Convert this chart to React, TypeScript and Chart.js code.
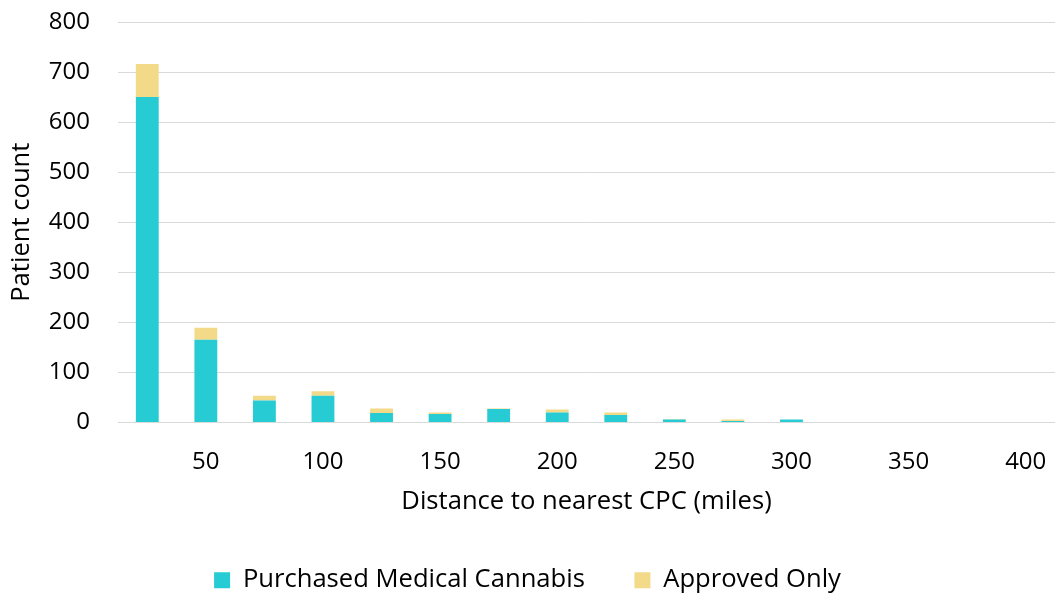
import React, { useEffect, useRef } from "react";
import { Chart, registerables } from "chart.js";

Chart.register(...registerables);

const categories = ["25", "50", "75", "100", "125", "150", "175", "200", "225", "250", "275", "300", "325", "350", "375", "400"];
const tickLabels = ["", "50", "", "100", "", "150", "", "200", "", "250", "", "300", "", "350", "", "400"];
const purchased = [650, 165, 44, 53, 19, 17, 27, 20, 15, 6, 3, 6, 1, 1, 1, 0];
const approvedOnly = [66, 24, 9, 9, 9, 3, 1, 6, 5, 1, 3, 0, 0, 0, 0, 1];
const seriesNames = ["Purchased Medical Cannabis", "Approved Only"];
const yTicks = [0, 100, 200, 300, 400, 500, 600, 700, 800];

const FONT = "'Open Sans', sans-serif";
const TICK_FS = 24;
const TEXT_FS = 25.6;

export default function App() {
  const ref = useRef<HTMLCanvasElement | null>(null);

  useEffect(() => {
    document.body.style.margin = "0";
    const canvas = ref.current;
    if (!canvas) return;
    const chart = new Chart(canvas, {
      type: "bar",
      data: {
        labels: categories,
        datasets: [
          {
            label: seriesNames[0],
            data: purchased,
            backgroundColor: "#26CBD3",
            barPercentage: 0.39,
            categoryPercentage: 1,
          },
          {
            label: seriesNames[1],
            data: approvedOnly,
            backgroundColor: "#F3DA88",
            barPercentage: 0.39,
            categoryPercentage: 1,
          },
        ],
      },
      options: {
        animation: false,
        responsive: false,
        devicePixelRatio: 1,
        layout: { padding: { top: 22, right: 0, bottom: -10, left: 0 } },
        plugins: {
          tooltip: { enabled: false },
          legend: {
            position: "bottom",
            labels: {
              font: { family: FONT, size: TEXT_FS },
              color: "#000",
              boxWidth: 16,
              boxHeight: 16,
              padding: 3,
              generateLabels: (c) => {
                const items = Chart.defaults.plugins.legend.labels.generateLabels(c);
                items.forEach((it, i) => {
                  it.lineWidth = 0;
                  if (i === 0) it.text = it.text + "       ";
                });
                return items;
              },
            },
          },
        },
        scales: {
          x: {
            stacked: true,
            grid: { display: false, drawTicks: true, tickLength: 25 },
            border: { display: false },
            ticks: {
              font: { family: FONT, size: TICK_FS },
              color: "#000",
              padding: 0,
              autoSkip: false,
              maxRotation: 0,
              callback: (_v, i) => tickLabels[i],
            },
            title: {
              display: true,
              text: "Distance to nearest CPC (miles)",
              font: { family: FONT, size: TEXT_FS },
              color: "#000",
              padding: { top: 0, bottom: 47 },
            },
            afterFit: (s) => {
              s.height = 142;
            },
          },
          y: {
            stacked: true,
            min: 0,
            max: 800,
            grid: {
              color: "#D9D9D9",
              lineWidth: 1,
              drawTicks: true,
              tickLength: 28,
              tickColor: "rgba(0,0,0,0)",
            },
            border: { display: false },
            afterBuildTicks: (s) => {
              s.ticks = yTicks.map((v) => ({ value: v }));
            },
            ticks: {
              font: { family: FONT, size: TICK_FS },
              color: "#000",
              padding: 0,
            },
            title: {
              display: true,
              text: "Patient count",
              font: { family: FONT, size: TEXT_FS },
              color: "#000",
              padding: { top: 6, bottom: 0 },
            },
            afterFit: (s) => {
              s.width = 118;
            },
          },
        },
      },
    });
    return () => chart.destroy();
  }, []);

  return (
    <div style={{ width: 1055, height: 593, background: "#fff" }}>
      <canvas ref={ref} width={1055} height={593} style={{ display: "block", width: 1055, height: 593 }} />
    </div>
  );
}
